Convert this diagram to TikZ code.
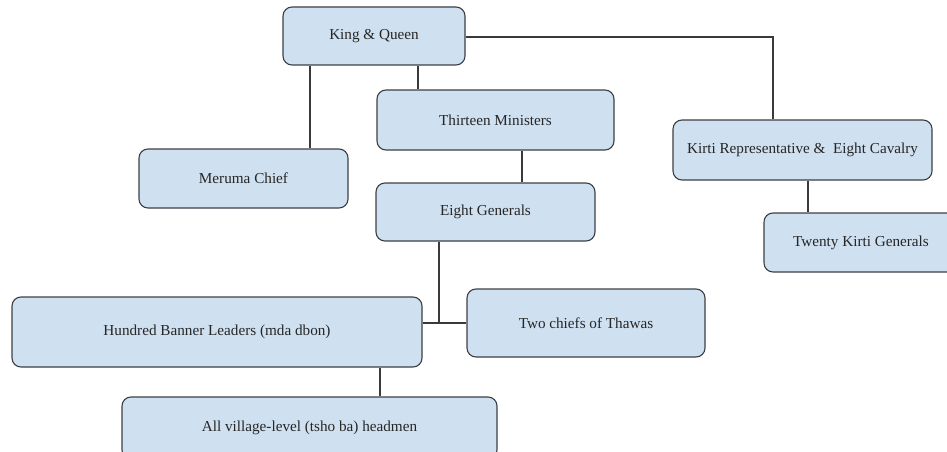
\documentclass[tikz,border=0pt]{standalone}
\usepackage{fontspec}
\setmainfont{Liberation Serif}
\definecolor{boxfill}{HTML}{CFE0F1}
\definecolor{boxline}{HTML}{3C3F44}
\definecolor{conn}{HTML}{3A3A3A}
\begin{document}
\begin{tikzpicture}[x=1pt,y=-1pt,
  orgbox/.style={draw=boxline, fill=boxfill, line width=1.1pt, rounded corners=9pt,
    inner sep=0pt, font=\fontsize{15.2}{18}\selectfont, text=black!85},
  link/.style={draw=conn, line width=1.1pt}]
\useasboundingbox (0,0) rectangle (947,452);
\clip (0,0) rectangle (947,452);
\fill[white] (0,0) rectangle (947,452);
\node[orgbox, minimum width=182pt, minimum height=58pt] (kq) at (374,36) {King \& Queen};
\node[orgbox, minimum width=237pt, minimum height=60pt] (tm) at (495.5,120) {Thirteen Ministers};
\node[orgbox, minimum width=209pt, minimum height=59pt] (mc) at (243.5,178.5) {Meruma Chief};
\node[orgbox, minimum width=219pt, minimum height=58pt] (eg) at (485.5,212) {Eight Generals};
\node[orgbox, minimum width=259pt, minimum height=60pt] (kr) at (802.5,150) {Kirti Representative \&\ \ Eight Cavalry};
\node[orgbox, minimum width=194pt, minimum height=59pt] (tk) at (861,242.5) {Twenty Kirti Generals};
\node[orgbox, minimum width=410pt, minimum height=70pt] (hb) at (217,332) {Hundred Banner Leaders (mda dbon)};
\node[orgbox, minimum width=238pt, minimum height=68pt] (tc) at (586,323) {Two chiefs of Thawas};
\node[orgbox, minimum width=375pt, minimum height=62pt] (vh) at (309.5,428) {All village-level (tsho ba) headmen};
% connectors
\draw[link] (kq.south -| 310,0) -- (mc.north -| 310,0);
\draw[link] (kq.south -| 418,0) -- (tm.north -| 418,0);
\coordinate (corner) at (773,37);
\draw[link] (kq.east |- corner) -- (corner) -- (kr.north -| corner);
\draw[link] (tm.south -| 522,0) -- (eg.north -| 522,0);
\coordinate (junc) at (439,323);
\draw[link] (eg.south -| junc) -- (junc);
\draw[link] (hb.east |- junc) -- (tc.west |- junc);
\draw[link] (kr.south -| 808,0) -- (tk.north -| 808,0);
\draw[link] (hb.south -| 380,0) -- (vh.north -| 380,0);
\end{tikzpicture}
\end{document}
